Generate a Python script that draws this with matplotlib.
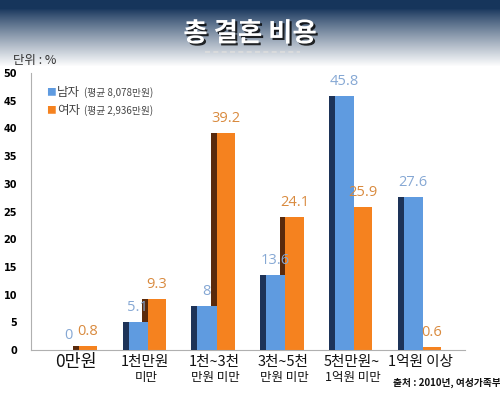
import numpy as np
import matplotlib.pyplot as plt
import matplotlib.patheffects as pe
from matplotlib.lines import Line2D

plt.rcParams['font.family'] = ['Noto Sans CJK KR', 'DejaVu Sans']

# 데이터 (단위: %)
cat_line1 = ['0만원', '1천만원', '1천~3천', '3천~5천', '5천만원~', '1억원 이상']
cat_line2 = ['', '미만', '만원 미만', '만원 미만', '1억원 미만', '']
male = [0, 5.1, 8, 13.6, 45.8, 27.6]
female = [0.8, 9.3, 39.2, 24.1, 25.9, 0.6]
male_lbl = ['0', '5.1', '8', '13.6', '45.8', '27.6']
female_lbl = ['0.8', '9.3', '39.2', '24.1', '25.9', '0.6']
legend_names = ['남자', '여자']
legend_notes = ['(평균 8,078만원)', '(평균 2,936만원)']
yticks = [0, 5, 10, 15, 20, 25, 30, 35, 40, 45, 50]

c_male = '#5f9be0'
c_male_side = '#1d3358'
c_fem = '#f5821f'
c_fem_side = '#5a2a0c'

fig = plt.figure(figsize=(5, 3.97), dpi=100)

# 배경 (상단 남색 그라데이션)
bg = fig.add_axes([0, 0, 1, 1], zorder=-5)
h = 397
yy = np.arange(h)
t = np.clip((yy - 8) / 58.0, 0, 1) ** 0.9
dark = np.array([0.09, 0.21, 0.36])
white = np.array([1.0, 1.0, 1.0])
grad = dark[None, :] * (1 - t[:, None]) + white[None, :] * t[:, None]
img = np.repeat(grad[:, None, :], 10, axis=1)
bg.imshow(img, aspect='auto', extent=[0, 1, 0, 1])
bg.axis('off')

fig.text(0.5, 0.915, '총 결혼 비용', ha='center', va='center', fontsize=19,
         fontweight='bold', color='white',
         path_effects=[pe.withSimplePatchShadow(offset=(1.5, -1.5), shadow_rgbFace='black', alpha=0.8)])
fig.add_artist(Line2D([0.41, 0.60], [0.868, 0.868], color='#dddddd', lw=1.2,
                      linestyle=(0, (3, 2)), transform=fig.transFigure))
fig.text(0.026, 0.848, '단위 : %', ha='left', va='center', fontsize=9, color='#333333')

ax = fig.add_axes([0.062, 0.118, 0.868, 0.698])
x = np.arange(len(male))
dw = 0.087   # 측면 (어두운 면) 폭
fw = 0.265   # 여자 막대 앞면 폭
mw = 0.28    # 남자 막대 앞면 폭

ax.bar(x - dw, female, width=dw, align='edge', color=c_fem_side, zorder=2)
ax.bar(x, female, width=fw, align='edge', color=c_fem, zorder=2)
ax.bar(x - mw - dw, male, width=dw, align='edge', color=c_male_side, zorder=3)
ax.bar(x - mw, male, width=mw, align='edge', color=c_male, zorder=3)

for i in range(len(male)):
    ax.text(x[i] - 0.15, male[i] + 2.6, male_lbl[i], ha='center', va='center',
            fontsize=10.5, color='#86a8d4', family='Open Sans', zorder=5)
    ax.text(x[i] + 0.13, female[i] + 2.6, female_lbl[i], ha='center', va='center',
            fontsize=10.5, color='#d98a3e', family='Open Sans', zorder=5)

trans = ax.get_xaxis_transform()
for i in range(len(cat_line1)):
    ax.text(x[i] - 0.04, -0.043, cat_line1[i], transform=trans, ha='center', va='center',
            fontsize=12.5 if i == 0 else 10.5, color='#111111')
    if cat_line2[i]:
        ax.text(x[i] - 0.02, -0.098, cat_line2[i], transform=trans, ha='center', va='center',
                fontsize=9, color='#111111')

ax.set_xlim(-0.70, 5.61)
ax.set_ylim(0, 50)
ax.set_yticks(yticks)
ax.set_yticklabels([str(v) for v in yticks], fontsize=7, fontweight='bold', family='DejaVu Sans')
ax.tick_params(axis='y', length=0, pad=10)
ax.set_xticks([])
for s in ['top', 'right']:
    ax.spines[s].set_visible(False)
ax.spines['left'].set_color('#b0b0b0')
ax.spines['bottom'].set_color('#b0b0b0')
ax.patch.set_alpha(0)

# 범례
for k, (nm, note, col) in enumerate(zip(legend_names, legend_notes, [c_male, c_fem])):
    yk = 0.93 - k * 0.065
    ax.text(0.035, yk, '■', transform=ax.transAxes, color=col, fontsize=7, va='center')
    ax.text(0.06, yk, nm, transform=ax.transAxes, color='#444444', fontsize=9, va='center')
    ax.text(0.122, yk, note, transform=ax.transAxes, color='#444444', fontsize=7, va='center')

fig.text(0.786, 0.035, '출처 : 2010년, 여성가족부', ha='left', va='center', fontsize=7,
         fontweight='bold', color='#111111')

fig.savefig('out.png', dpi=100)
